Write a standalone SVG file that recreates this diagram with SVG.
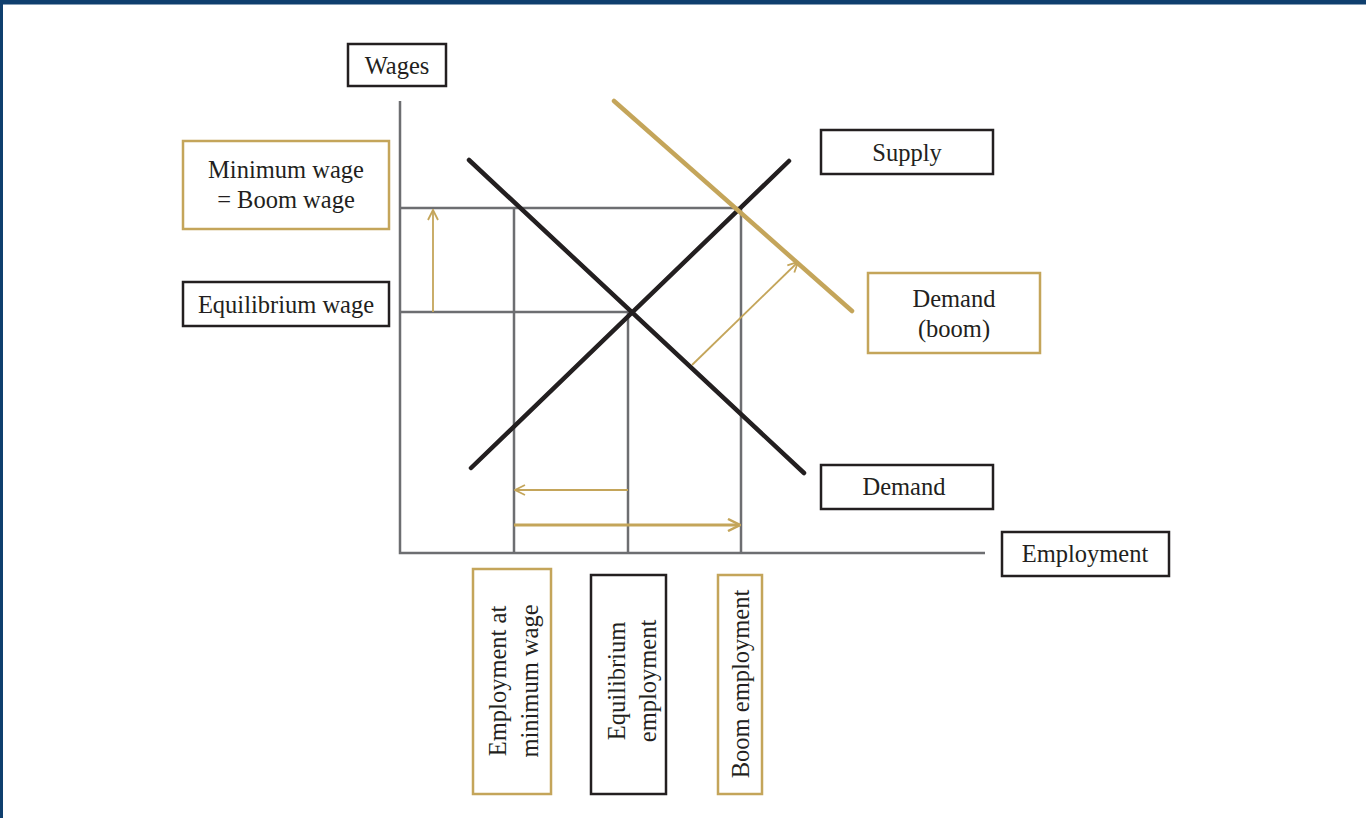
<svg xmlns="http://www.w3.org/2000/svg" width="1366" height="818" viewBox="0 0 1366 818">
<style>
.box{fill:#fff;stroke-width:2.5}
.blk{stroke:#231f20}
.gld{stroke:#c4a55a}
.t{font-family:"Liberation Serif",serif;font-size:24.5px;fill:#231f20;text-anchor:middle;dominant-baseline:central}
.grid{stroke:#6d6e71;stroke-width:2.5;fill:none}
.curve{stroke-width:4.5;stroke-linecap:round;fill:none}
.arr{stroke:#c4a55a;fill:none}
</style>
<defs>
<marker id="ah" viewBox="0 0 12 12" refX="11" refY="6" markerWidth="12" markerHeight="12" markerUnits="userSpaceOnUse" orient="auto">
<path d="M1,1 L11,6 L1,11" fill="none" stroke="#c4a55a" stroke-width="1.8"/>
</marker>
<marker id="ah2" viewBox="0 0 14 14" refX="13" refY="7" markerWidth="14" markerHeight="14" markerUnits="userSpaceOnUse" orient="auto">
<path d="M1,1 L13,7 L1,13" fill="none" stroke="#c4a55a" stroke-width="2.5"/>
</marker>
</defs>
<rect x="0" y="0" width="1366" height="818" fill="#fff"/>
<line x1="0" y1="2" x2="1366" y2="2" stroke="#0f3f6e" stroke-width="5"/>
<line x1="1.5" y1="0" x2="1.5" y2="818" stroke="#0f3f6e" stroke-width="3"/>

<g id="connectors">
<g id="axes" class="grid">
<polyline points="400,101 400,553 985,553"/>
<line x1="400" y1="208" x2="741" y2="208"/>
<line x1="400" y1="312" x2="628" y2="312"/>
<line x1="514" y1="208" x2="514" y2="553"/>
<line x1="628" y1="312" x2="628" y2="553"/>
<line x1="741" y1="208" x2="741" y2="553"/>
</g>
<line id="demand-line" class="curve" stroke="#231f20" x1="469" y1="160" x2="804" y2="473"/>
<line id="supply-line" class="curve" stroke="#231f20" x1="471" y1="468" x2="789" y2="161"/>
<line id="boom-line" class="curve" stroke="#c4a55a" x1="614" y1="101" x2="852" y2="311"/>
<line class="arr" stroke-width="1.8" x1="433" y1="312" x2="433" y2="210" marker-end="url(#ah)"/>
<line class="arr" stroke-width="1.8" x1="692" y1="365" x2="798" y2="262" marker-end="url(#ah)"/>
<line class="arr" stroke-width="1.8" x1="628" y1="490" x2="515" y2="490" marker-end="url(#ah)"/>
<line class="arr" stroke-width="2.8" x1="514" y1="525" x2="740" y2="525" marker-end="url(#ah2)"/>
</g>

<g id="wages"><rect class="box blk" x="348" y="44" width="98" height="42"/><text class="t" x="397" y="65">Wages</text></g>
<g id="min-wage"><rect class="box gld" x="183" y="141" width="206" height="88"/><text class="t" x="286" y="169">Minimum wage</text><text class="t" x="286" y="199">= Boom wage</text></g>
<g id="eq-wage"><rect class="box blk" x="183" y="282" width="206" height="44"/><text class="t" x="286" y="304">Equilibrium wage</text></g>
<g id="supply"><rect class="box blk" x="821" y="130" width="172" height="44"/><text class="t" x="907" y="152">Supply</text></g>
<g id="demand-boom"><rect class="box gld" x="868" y="273" width="172" height="80"/><text class="t" x="954" y="298">Demand</text><text class="t" x="954" y="328">(boom)</text></g>
<g id="demand"><rect class="box blk" x="821" y="465" width="172" height="44"/><text class="t" x="904" y="486">Demand</text></g>
<g id="employment"><rect class="box blk" x="1002" y="532" width="167" height="44"/><text class="t" x="1085" y="553">Employment</text></g>
<g id="emp-min"><rect class="box gld" x="473" y="569" width="78" height="225"/>
<g transform="translate(512,681) rotate(-90)"><text class="t" x="0" y="-15">Employment at</text><text class="t" x="0" y="17">minimum wage</text></g></g>
<g id="eq-emp"><rect class="box blk" x="591" y="575" width="75" height="219"/>
<g transform="translate(631,681) rotate(-90)"><text class="t" x="0" y="-15">Equilibrium</text><text class="t" x="0" y="16">employment</text></g></g>
<g id="boom-emp"><rect class="box gld" x="718" y="575" width="44" height="219"/>
<g transform="translate(740,684) rotate(-90)"><text class="t" x="0" y="0">Boom employment</text></g></g>
</svg>
